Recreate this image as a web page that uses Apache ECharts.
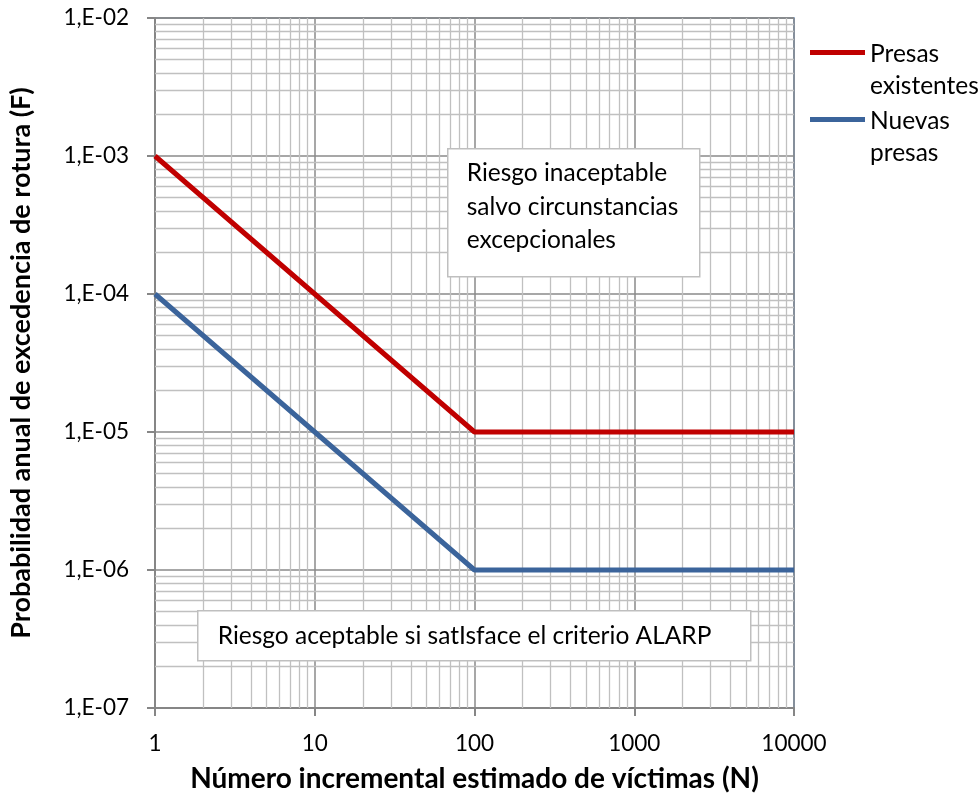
<!DOCTYPE html>
<html>
<head>
<meta charset="utf-8">
<script src="https://cdn.jsdelivr.net/npm/echarts@6/dist/echarts.min.js"></script>
<style>
    html, body { margin: 0; padding: 0; background: #fff; }
    #chart { width: 980px; height: 800px; }
</style>
</head>
<body>
<div id="chart"></div>
<script>
    // curvas F-N
    var victimas = [1, 100, 10000];
    var presasExistentes = [1e-3, 1e-5, 1e-5];
    var nuevasPresas = [1e-4, 1e-6, 1e-6];
    var seriesNames = ['Presas\nexistentes', 'Nuevas\npresas'];

    // etiquetas de los ejes (por exponente)
    var xTickLabels = { 0: '1', 1: '10', 2: '100', 3: '1000', 4: '10000' };
    var yTickLabels = { '-7': '1,E-07', '-6': '1,E-06', '-5': '1,E-05', '-4': '1,E-04', '-3': '1,E-03', '-2': '1,E-02' };

    var xTitle = 'Número incremental estimado de víctimas (N)';
    var yTitle = 'Probabilidad anual de excedencia de rotura (F)';
    var boxArriba = ['Riesgo inaceptable', 'salvo circunstancias', 'excepcionales'];
    var boxAbajo = 'Riesgo aceptable si satIsface el criterio ALARP';

    var FONT = 'Lato';

    // lineas secundarias de la rejilla (2..9 de cada decada)
    var xDecadas = [1, 10, 100, 1000];
    var yDecadas = [1e-7, 1e-6, 1e-5, 1e-4, 1e-3];
    var minorLines = [];
    xDecadas.forEach(function (d) {
        for (var k = 2; k <= 9; k++) minorLines.push({ coords: [[d * k, 1e-7], [d * k, 1e-2]] });
    });
    yDecadas.forEach(function (d) {
        for (var k = 2; k <= 9; k++) {
            var v = parseFloat((d * k).toPrecision(3));
            minorLines.push({ coords: [[1, v], [10000, v]] });
        }
    });

    function pairs(xs, ys) {
        return xs.map(function (x, i) { return [x, ys[i]]; });
    }

    var chart = echarts.init(document.getElementById('chart'));
    chart.setOption({
        animation: false,
        grid: {
            left: 155, right: 186, top: 18, bottom: 92,
            show: true, borderColor: '#4f81bd', borderWidth: 1.5
        },
        legend: {
            orient: 'vertical',
            left: 805, top: 33,
            data: seriesNames,
            itemWidth: 55, itemHeight: 40, itemGap: 3,
            icon: 'path://M0,0 L55,0 L55,5 L0,5 Z M0,40',
            textStyle: { fontFamily: FONT, fontSize: 24.5, lineHeight: 32, color: '#000' }
        },
        xAxis: {
            type: 'log', logBase: 10, min: 1, max: 10000, splitNumber: 4,
            name: xTitle, nameLocation: 'middle', nameGap: 57,
            nameTextStyle: { fontFamily: FONT, fontSize: 28, fontWeight: 'bold', color: '#000' },
            axisLine: { lineStyle: { color: '#868686', width: 2 } },
            axisTick: { show: true, length: 8, lineStyle: { color: '#868686', width: 2 } },
            axisLabel: {
                margin: 24, fontFamily: FONT, fontSize: 22.5, color: '#000',
                formatter: function (v) { return xTickLabels[Math.round(Math.log10(v))]; }
            },
            splitLine: { show: true, lineStyle: { color: '#8a8a8a', width: 1.5 } }
        },
        yAxis: {
            type: 'log', logBase: 10, min: 1e-7, max: 1e-2, splitNumber: 5,
            name: yTitle, nameLocation: 'middle', nameGap: 120,
            nameTextStyle: { fontFamily: FONT, fontSize: 27, fontWeight: 'bold', color: '#000' },
            axisLine: { show: true, lineStyle: { color: '#868686', width: 2 } },
            axisTick: { show: true, length: 8, lineStyle: { color: '#868686', width: 2 } },
            axisLabel: {
                margin: 26, fontFamily: FONT, fontSize: 22.5, color: '#000',
                formatter: function (v) { return yTickLabels[Math.round(Math.log10(v))]; }
            },
            splitLine: { show: true, lineStyle: { color: '#8a8a8a', width: 1.5 } }
        },
        series: [
            {
                name: 'rejilla',
                type: 'lines',
                coordinateSystem: 'cartesian2d',
                silent: true,
                z: 1,
                lineStyle: { color: '#c0c0c0', width: 1.3, opacity: 1 },
                data: minorLines
            },
            {
                name: seriesNames[0],
                type: 'line',
                data: pairs(victimas, presasExistentes),
                showSymbol: false,
                color: '#c00000',
                lineStyle: { width: 5, color: '#c00000' },
                z: 5
            },
            {
                name: seriesNames[1],
                type: 'line',
                data: pairs(victimas, nuevasPresas),
                showSymbol: false,
                color: '#3b649b',
                lineStyle: { width: 5, color: '#3b649b' },
                z: 5
            }
        ],
        graphic: [
            {
                type: 'group', left: 447, top: 148,
                children: [
                    { type: 'rect', z: 100, shape: { x: 0, y: 0, width: 252, height: 128 },
                      style: { fill: '#fff', stroke: '#bfbfbf', lineWidth: 1.5 } },
                    { type: 'text', z: 101, x: 19, y: 8,
                      style: { text: boxArriba.join('\n'), font: '24.5px ' + FONT, lineHeight: 33.5, fill: '#000' } }
                ]
            },
            {
                type: 'group', left: 197, top: 610,
                children: [
                    { type: 'rect', z: 100, shape: { x: 0, y: 0, width: 553, height: 50 },
                      style: { fill: '#fff', stroke: '#bfbfbf', lineWidth: 1.5 } },
                    { type: 'text', z: 101, x: 20, y: 25,
                      style: { text: boxAbajo, font: '24.5px ' + FONT, fill: '#000', verticalAlign: 'middle' } }
                ]
            }
        ]
    });
</script>
</body>
</html>
